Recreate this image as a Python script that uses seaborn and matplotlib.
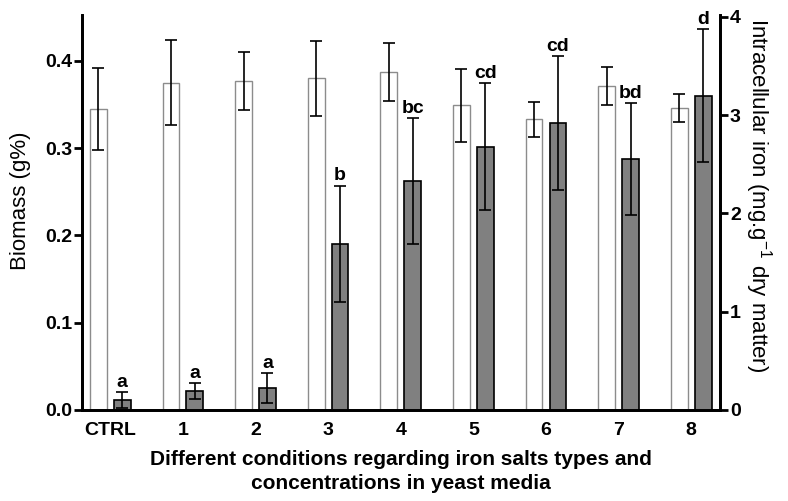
import matplotlib
matplotlib.use("Agg")
import matplotlib.pyplot as plt
import seaborn as sns
from pandas import DataFrame

conditions = ["CTRL", "1", "2", "3", "4", "5", "6", "7", "8"]
biomass = [0.345, 0.375, 0.377, 0.380, 0.387, 0.349, 0.333, 0.371, 0.346]
biomass_sd = [0.047, 0.049, 0.033, 0.043, 0.033, 0.042, 0.020, 0.022, 0.016]
iron = [0.10, 0.19, 0.22, 1.69, 2.33, 2.68, 2.92, 2.55, 3.20]
iron_sd = [0.08, 0.08, 0.15, 0.59, 0.64, 0.645, 0.68, 0.57, 0.675]
letters = ["a", "a", "a", "b", "bc", "cd", "cd", "bd", "d"]

series = ["Biomass", "Iron"]

sns.set_style("ticks")
plt.rcParams["font.family"] = ["Liberation Sans", "DejaVu Sans"]
plt.rcParams["mathtext.fontset"] = "custom"
plt.rcParams["mathtext.rm"] = "Liberation Sans"
plt.rcParams["mathtext.it"] = "Liberation Sans"
for k in ("text.color", "axes.labelcolor", "xtick.color", "ytick.color", "axes.edgecolor"):
    plt.rcParams[k] = "black"

bio_df = DataFrame({"condition": conditions, "value": biomass, "series": "Biomass"})
iron_df = DataFrame({"condition": conditions, "value": iron, "series": "Iron"})
colors = {"Biomass": "white", "Iron": "#808080"}

fig = plt.figure(figsize=(7.88, 5.01), dpi=100)
ax = fig.add_axes([0.104, 0.182, 0.81, 0.788])
ax2 = ax.twinx()

sns.barplot(data=bio_df, x="condition", y="value", hue="series", hue_order=series,
            order=conditions, palette=colors, dodge=True,
            width=0.66, gap=0.3, errorbar=None, legend=False,
            edgecolor="#8c8c8c", linewidth=1.0, ax=ax)
sns.barplot(data=iron_df, x="condition", y="value", hue="series", hue_order=series,
            order=conditions, palette=colors, dodge=True,
            width=0.66, gap=0.3, errorbar=None, legend=False,
            edgecolor="black", linewidth=1.2, ax=ax2)

# error bars at bar centres
bx = [p.get_x() + p.get_width() / 2 for p in ax.patches][:len(conditions)]
ix = [p.get_x() + p.get_width() / 2 for p in ax2.patches][:len(conditions)]
ax.errorbar(bx, biomass, yerr=biomass_sd, fmt="none", ecolor="black",
            elinewidth=1.2, capsize=4, capthick=1.2, zorder=5)
ax2.errorbar(ix, iron, yerr=iron_sd, fmt="none", ecolor="black",
             elinewidth=1.2, capsize=4, capthick=1.2, zorder=5)

for x, v, e, t in zip(ix, iron, iron_sd, letters):
    ax2.annotate(t, (x, v + e), xytext=(0, 4), textcoords="offset points",
                 ha="center", va="baseline", fontsize=14, fontweight="bold")

ax.set_xlim(-0.39, 8.4)
ax.set_ylim(0, 0.4525)
ax2.set_ylim(0, 4.02)
ax.set_yticks([0.0, 0.1, 0.2, 0.3, 0.4])
ax.set_yticklabels(["0.0", "0.1", "0.2", "0.3", "0.4"])
ax2.set_yticks([0, 1, 2, 3, 4])

for a in (ax, ax2):
    a.spines["top"].set_visible(False)
    for s in ("left", "right", "bottom"):
        a.spines[s].set_linewidth(2)
    a.tick_params(axis="y", length=6, width=2, labelsize=14, pad=1)
    for lab in a.get_yticklabels():
        lab.set_fontweight("bold")
ax.tick_params(axis="x", length=0, labelsize=14, pad=9)
for lab in ax.get_xticklabels():
    lab.set_fontweight("bold")

ax.set_xlabel("Different conditions regarding iron salts types and\nconcentrations in yeast media",
              fontsize=15, fontweight="bold", labelpad=8, linespacing=1.3)
ax.set_ylabel("Biomass (g%)", fontsize=16, va="center")
ax.yaxis.set_label_coords(-0.097, 0.53)
ax2.set_ylabel("Intracellular iron (mg.g$^{-1}$ dry matter)", fontsize=16,
               rotation=270, va="center")
ax2.yaxis.set_label_coords(1.06, 0.544)

fig.savefig("out.png", dpi=100)
